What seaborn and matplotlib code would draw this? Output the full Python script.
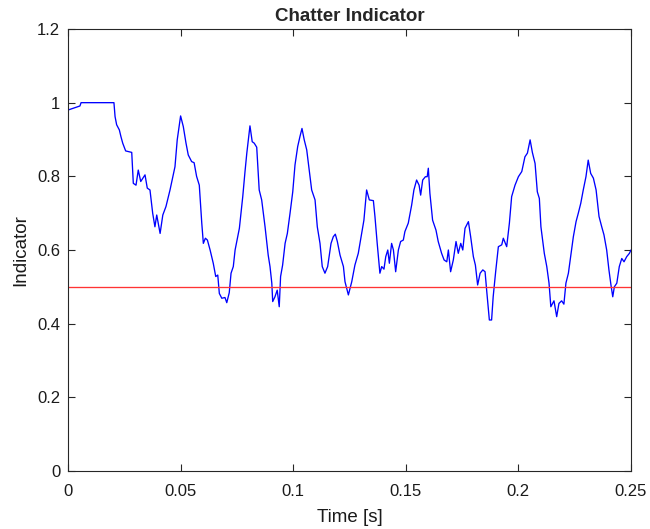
import matplotlib
matplotlib.use("Agg")
import matplotlib.pyplot as plt
import seaborn as sns
import pandas as pd

time_s = [0.0000, 0.0053, 0.0058, 0.0204, 0.0209, 0.0216, 0.0228, 0.0235, 0.0243, 0.0256,
          0.0283, 0.0290, 0.0302, 0.0312, 0.0323, 0.0342, 0.0352, 0.0364, 0.0376, 0.0386,
          0.0394, 0.0409, 0.0421, 0.0435, 0.0453, 0.0475, 0.0485, 0.0500, 0.0512, 0.0524,
          0.0534, 0.0549, 0.0560, 0.0571, 0.0583, 0.0594, 0.0601, 0.0610, 0.0619, 0.0631,
          0.0645, 0.0656, 0.0665, 0.0672, 0.0683, 0.0697, 0.0705, 0.0716, 0.0724, 0.0734,
          0.0742, 0.0761, 0.0776, 0.0786, 0.0794, 0.0801, 0.0808, 0.0818, 0.0827, 0.0838,
          0.0849, 0.0860, 0.0875, 0.0889, 0.0897, 0.0905, 0.0909, 0.0919, 0.0929, 0.0938,
          0.0944, 0.0953, 0.0964, 0.0974, 0.0986, 0.0998, 0.1008, 0.1020, 0.1030, 0.1039,
          0.1049, 0.1060, 0.1071, 0.1082, 0.1097, 0.1107, 0.1119, 0.1129, 0.1141, 0.1153,
          0.1168, 0.1178, 0.1187, 0.1196, 0.1208, 0.1223, 0.1230, 0.1245, 0.1260, 0.1274,
          0.1289, 0.1304, 0.1314, 0.1326, 0.1338, 0.1356, 0.1363, 0.1373, 0.1385, 0.1393,
          0.1403, 0.1411, 0.1420, 0.1427, 0.1437, 0.1445, 0.1455, 0.1467, 0.1477, 0.1489,
          0.1496, 0.1511, 0.1526, 0.1536, 0.1548, 0.1559, 0.1566, 0.1575, 0.1587, 0.1595,
          0.1600, 0.1607, 0.1619, 0.1634, 0.1644, 0.1659, 0.1670, 0.1682, 0.1689, 0.1699,
          0.1711, 0.1723, 0.1733, 0.1744, 0.1753, 0.1763, 0.1778, 0.1788, 0.1800, 0.1809,
          0.1819, 0.1830, 0.1842, 0.1852, 0.1859, 0.1871, 0.1881, 0.1888, 0.1899, 0.1911,
          0.1926, 0.1933, 0.1948, 0.1960, 0.1970, 0.1985, 0.2000, 0.2015, 0.2029, 0.2040,
          0.2052, 0.2062, 0.2074, 0.2084, 0.2093, 0.2100, 0.2115, 0.2126, 0.2136, 0.2144,
          0.2158, 0.2170, 0.2180, 0.2192, 0.2202, 0.2211, 0.2222, 0.2232, 0.2244, 0.2256,
          0.2266, 0.2277, 0.2288, 0.2300, 0.2310, 0.2321, 0.2333, 0.2345, 0.2358, 0.2370,
          0.2380, 0.2392, 0.2402, 0.2411, 0.2419, 0.2426, 0.2437, 0.2448, 0.2459, 0.2469,
          0.2481, 0.2493, 0.2500]

indicator = [0.980, 0.991, 1.000, 1.000, 0.962, 0.940, 0.926, 0.908, 0.890, 0.869,
             0.865, 0.781, 0.776, 0.817, 0.786, 0.804, 0.768, 0.763, 0.700, 0.663,
             0.695, 0.645, 0.695, 0.718, 0.763, 0.826, 0.899, 0.964, 0.935, 0.890,
             0.858, 0.840, 0.837, 0.800, 0.776, 0.673, 0.618, 0.632, 0.627, 0.600,
             0.564, 0.528, 0.532, 0.482, 0.469, 0.471, 0.457, 0.484, 0.537, 0.555,
             0.600, 0.659, 0.745, 0.813, 0.863, 0.899, 0.937, 0.894, 0.890, 0.879,
             0.763, 0.736, 0.663, 0.586, 0.555, 0.510, 0.460, 0.473, 0.491, 0.446,
             0.528, 0.559, 0.618, 0.645, 0.700, 0.758, 0.831, 0.881, 0.908, 0.930,
             0.899, 0.872, 0.817, 0.763, 0.736, 0.663, 0.618, 0.555, 0.537, 0.555,
             0.618, 0.636, 0.643, 0.623, 0.586, 0.555, 0.514, 0.478, 0.514, 0.559,
             0.591, 0.645, 0.681, 0.763, 0.736, 0.734, 0.691, 0.618, 0.537, 0.555,
             0.548, 0.582, 0.600, 0.564, 0.618, 0.600, 0.541, 0.600, 0.623, 0.627,
             0.650, 0.673, 0.722, 0.763, 0.790, 0.776, 0.749, 0.790, 0.799, 0.799,
             0.822, 0.754, 0.681, 0.654, 0.623, 0.591, 0.573, 0.568, 0.600, 0.541,
             0.573, 0.623, 0.591, 0.618, 0.600, 0.659, 0.677, 0.636, 0.582, 0.559,
             0.505, 0.537, 0.546, 0.541, 0.491, 0.410, 0.410, 0.473, 0.541, 0.609,
             0.614, 0.632, 0.609, 0.673, 0.745, 0.776, 0.799, 0.813, 0.853, 0.863,
             0.899, 0.865, 0.835, 0.758, 0.740, 0.663, 0.591, 0.555, 0.510, 0.446,
             0.462, 0.419, 0.455, 0.462, 0.453, 0.510, 0.537, 0.582, 0.636, 0.677,
             0.700, 0.727, 0.763, 0.799, 0.844, 0.808, 0.795, 0.763, 0.691, 0.663,
             0.641, 0.600, 0.546, 0.505, 0.473, 0.500, 0.510, 0.555, 0.577, 0.568,
             0.582, 0.591, 0.600]

threshold_x = [0.0, 0.25]
threshold_y = [0.5, 0.5]

x_ticks = [0, 0.05, 0.1, 0.15, 0.2, 0.25]
x_tick_labels = ["0", "0.05", "0.1", "0.15", "0.2", "0.25"]
y_ticks = [0, 0.2, 0.4, 0.6, 0.8, 1.0, 1.2]
y_tick_labels = ["0", "0.2", "0.4", "0.6", "0.8", "1", "1.2"]

sns.set_style("white")
plt.rcParams["font.family"] = ["Liberation Sans", "DejaVu Sans"]

df = pd.DataFrame({"t": time_s, "v": indicator})
df_th = pd.DataFrame({"t": threshold_x, "v": threshold_y})

fig = plt.figure(figsize=(6.5, 5.29), dpi=100)
ax = fig.add_axes([68/650, 1-471/529, (631-68)/650, (471-29)/529])

sns.lineplot(data=df, x="t", y="v", ax=ax, color=(0, 0, 1), linewidth=0.95,
             estimator=None, sort=False)
sns.lineplot(data=df_th, x="t", y="v", ax=ax, color=(1, 0.2, 0.2), linewidth=0.95,
             estimator=None, sort=False)

ax.set_xlim(0, 0.25)
ax.set_ylim(0, 1.2)
ax.set_xticks(x_ticks)
ax.set_xticklabels(x_tick_labels)
ax.set_yticks(y_ticks)
ax.set_yticklabels(y_tick_labels)

edge = (0.15, 0.15, 0.15)
for s in ax.spines.values():
    s.set_visible(True)
    s.set_color(edge)
    s.set_linewidth(0.8)
ax.tick_params(direction="in", length=5, width=0.8, colors=edge,
               labelcolor=(0.1, 0.1, 0.1), labelsize=12,
               top=True, right=True, bottom=True, left=True)
ax.tick_params(axis="x", pad=9.5)
ax.tick_params(axis="y", pad=5.5)
ax.grid(False)

ax.set_xlabel("Time [s]", fontsize=13.5, color=(0.1, 0.1, 0.1), labelpad=7)
ax.set_ylabel("Indicator", fontsize=13.5, color=(0.1, 0.1, 0.1), labelpad=6)
ax.set_title("Chatter Indicator", fontsize=13.5, fontweight="bold", pad=6)

fig.savefig("out.png", dpi=100)
